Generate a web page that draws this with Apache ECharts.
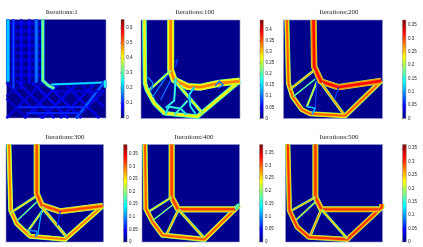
<!DOCTYPE html>
<html><head><meta charset="utf-8">
<style>html,body{margin:0;padding:0;background:#fff}#c{width:423px;height:247px;filter:blur(0.5px)}</style>
<script src="https://cdn.jsdelivr.net/npm/echarts@6/dist/echarts.min.js"></script>
</head><body><div id="c"></div>
<script>
const titles=["Iterations:1","Iterations:100","Iterations:200","Iterations:300","Iterations:400","Iterations:500"];
const barMax=[0.657,0.442,0.369,0.387,0.382,0.364];
const barStep=[0.1,0.05,0.05,0.05,0.05,0.05];

const paths1=[
[[0,96],[38,96]],[[0,88.5],[38,88.5]],[[0,81],[38,81]],[[0,73.5],[38,73.5]],[[0,66],[38,66]],[[0,58.5],[38,58.5]],[[0,51],[38,51]],[[0,43.5],[38,43.5]],
[[0,36],[36,0]],[[0,20],[20,0]],[[10,38],[48,0]],[[26,36],[62,0]],[[42,33],[75,0]],[[60,33],[93,0]],[[76,33],[98,11]],
[[0,0],[38,38]],[[18,0],[52,34]],[[36,0],[70,34]],[[54,0],[88,34]],[[70,0],[98,28]],[[0,22],[20,38]],
[[1.5,100],[1.5,37]],[[7,100],[7,30]],[[15,100],[15,30]],[[23,100],[23,35]],[[30,100],[30,36]],[[36.5,100],[36.5,38],[42,33],[48,30]],
[[45,34],[98,36]],[[98,36],[70,0]],[[12,11],[82,11]],[[20,5],[74,5]],[[48,27],[97,27]],[[99,31],[99,38]]
];
const thick1=[4,4,4,4,4,4,4,4, 2.6,2.6,2.6,2.6,2.6,2.6,2.6, 2.6,2.6,2.6,2.6,2.6,2, 4,3,3,3,4,3.4, 2.4,3,2.4,2.4,2,3];
const stress1=[0.05,0.05,0.05,0.05,0.05,0.05,0.05,0.05, 0.07,0.055,0.075,0.09,0.08,0.075,0.065, 0.065,0.075,0.08,0.075,0.07,0.055, 0.22,0.13,0.08,0.085,0.16,0.34, 0.24,0.15,0.115,0.115,0.07,0.28];

const paths100=[
[[3.4,100],[4,36],[6,29],[13.4,15.5],[23.5,5.4],[57,2],[99.7,38]],
[[30,100],[30,49],[33.5,39.2],[47,32.4],[60.4,31.8],[79,35.8],[99.7,38]],
[[33.5,39],[62,5.4]],[[30,48.6],[8.4,29]],[[26.8,44],[11.7,22]],[[30,39],[20,19]],
[[35,41],[33.5,18],[25,11]],[[47,18],[34,4]],[[53.7,31.8],[48.7,24],[50,12],[55,5]],
[[7,42],[12,36],[10,28]],[[75,33],[79,38],[83,34],[78,31]],[[25,5],[28,12],[40,10],[46,4]],[[34,57],[37,60],[35,53]]
];
const thick100=[4.6,7,3.4,2.6,1.4,1.4,2.2,2.2,2.2,1.4,1.4,2.2,1];
const stress100=[0.28,0.33,0.27,0.27,0.13,0.12,0.2,0.22,0.18,0.14,0.14,0.2,0.1];

const paths200=[
[[3.4,100],[5,35.8],[9,22.3],[18.5,9],[27,4.7],[62.3,2.7],[98.7,38.2]],
[[30.3,100],[31,52.7],[38,37.5],[55.6,31.8],[98.7,38.2]],
[[38,36],[60.6,4.7]],[[31,49],[6.7,29.7]],[[32,40],[10,22.3]],[[33.7,37.5],[23.6,12]],
[[33.7,37.5],[32,10.5]],[[55.6,31.8],[52,19.6]],[[23.6,12],[32,10.5],[29,4]]
];
const thick200=[5,6.4,3,2.8,1.5,2.2,1,1,1.8];
const stress200=[0.29,0.32,0.27,0.26,0.21,0.24,0.08,0.08,0.13];

const paths300=[
[[3,100],[4.8,32.5],[11,18.8],[24.6,6],[60.6,2.7],[99.3,37]],
[[31.5,100],[31.5,49.7],[36.6,37.7],[55.5,31.5],[99.3,37]],
[[36.6,36],[62.3,5]],[[29.8,46.2],[4.8,30]],[[31.5,41],[11,21.6]],[[37.7,32.5],[23,12],[24,7]],
[[36.6,32.5],[32.5,6.8]],[[55.5,31.5],[52.7,17]],[[23,12],[32,11],[30,5]]
];
const thick300=[5,6.2,3.2,2.6,1.5,2.4,1,1,1.4];
const stress300=[0.29,0.31,0.27,0.26,0.23,0.26,0.14,0.08,0.12];

const paths400=[
[[3,100],[4,34],[11,20.5],[21,7],[64,2.7],[99.6,37.7]],
[[30.4,100],[30.4,46],[37,33.5],[96,33.5]],
[[37,33.5],[63,5]],[[30.4,46],[7.5,31.5]],[[31.4,38],[11,22]],[[37,32.5],[25.6,8.5]],[[96,33.5],[99.6,39]]
];
const thick400=[5.2,6.2,3,2.4,1.3,2.8,2.8];
const stress400=[0.3,0.31,0.27,0.26,0.24,0.27,0.19];

const paths500=[
[[2.4,100],[4,32.5],[12,15.4],[24,5],[63.7,2.7],[99.3,35.6],[99.3,39]],
[[30.8,100],[30.8,46],[37,33.5],[96,33.5]],
[[37,33.5],[63.7,3.4]],[[37,33.5],[25.7,6.8]],[[30.8,46],[6.8,32.5]],[[30.8,41],[11,22.6]]
];
const thick500=[5.2,6,2.8,2.8,2.4,1.8];
const stress500=[0.3,0.3,0.25,0.27,0.26,0.25];

const allPaths=[paths1,paths100,paths200,paths300,paths400,paths500];
const allThick=[thick1,thick100,thick200,thick300,thick400,thick500];
const allStress=[stress1,stress100,stress200,stress300,stress400,stress500];

// layout (pixels)
const plots=[[6.5,19.5,99.5,98.5],[141,20,99,98.5],[283.5,20,99,98.5],[6,144.5,97.5,97.5],[142,144.5,97.5,97.5],[285.5,144.5,97,97.5]];
const bars=[[121,19.5,3.2,98.5],[260,20,3.4,98.5],[402.5,20,3.4,98.5],[123.5,144.5,3.6,97.5],[259.5,144.5,3.4,97.5],[402.5,144.5,3.8,97.5]];
const titleXY=[[56.7,7.5],[190,7],[334,7],[60,132.5],[189,132.5],[334,132.5]];

function jet(t){
  t=Math.max(0,Math.min(1,t));
  const f=(a)=>Math.round(255*Math.max(0,Math.min(1,1.5-Math.abs(4*t-a))));
  return `rgb(${f(3)},${f(2)},${f(1)})`;
}
// each member is stroked as edge, body and core: extra width in px, width factor, share of the member's stress
const layers=[[0,1,0.62],[-0.9,1,0.84],[0,0.4,1]];
const grid=[],xAxis=[],yAxis=[],series=[],title=[];
titles.forEach((txt,i)=>{
  const p=plots[i],b=bars[i];
  title.push({text:txt,left:titleXY[i][0],top:titleXY[i][1],textAlign:'center',textVerticalAlign:'middle',
    textStyle:{fontFamily:'Liberation Serif',fontSize:7,fontWeight:'normal',color:'#222'}});
  grid.push({left:p[0],top:p[1],width:p[2],height:p[3],show:true,backgroundColor:'#00008c',borderColor:'#9a9ac8',borderWidth:0.6});
  xAxis.push({gridIndex:2*i,type:'value',min:0,max:100,show:false});
  yAxis.push({gridIndex:2*i,type:'value',min:0,max:100,show:false});
  grid.push({left:b[0],top:b[1],width:b[2],height:b[3],show:true,borderColor:'#777',borderWidth:0.4,
    backgroundColor:new echarts.graphic.LinearGradient(0,1,0,0,Array.from({length:17},(_,k)=>({offset:k/16,color:jet(k/16)})))});
  xAxis.push({gridIndex:2*i+1,type:'value',min:0,max:1,show:false});
  yAxis.push({gridIndex:2*i+1,type:'value',position:'right',min:0,max:barMax[i],interval:barStep[i],
    axisLine:{show:false},splitLine:{show:false},
    axisTick:{show:true,inside:true,length:1,lineStyle:{color:'#333',width:0.4}},
    axisLabel:{fontSize:4.5,margin:2,color:'#222',fontFamily:'Liberation Sans',showMaxLabel:false,hideOverlap:false,
      formatter:v=>String(+v.toFixed(2))}});
  series.push({type:'line',xAxisIndex:2*i+1,yAxisIndex:2*i+1,data:[],silent:true});
  allPaths[i].forEach((path,m)=>{
    layers.forEach(l=>{
      const w=Math.max(0.5,allThick[i][m]*l[1]+l[0]);
      series.push({type:'line',xAxisIndex:2*i,yAxisIndex:2*i,data:path,showSymbol:false,symbol:'none',silent:true,animation:false,
        clip:true,z:2,lineStyle:{width:w,color:jet(allStress[i][m]*l[2]/barMax[i]),cap:'butt',join:'round'}});
    });
  });
});
const chart=echarts.init(document.getElementById('c'),null,{renderer:'canvas'});
chart.setOption({animation:false,title,grid,xAxis,yAxis,series});
</script></body></html>
